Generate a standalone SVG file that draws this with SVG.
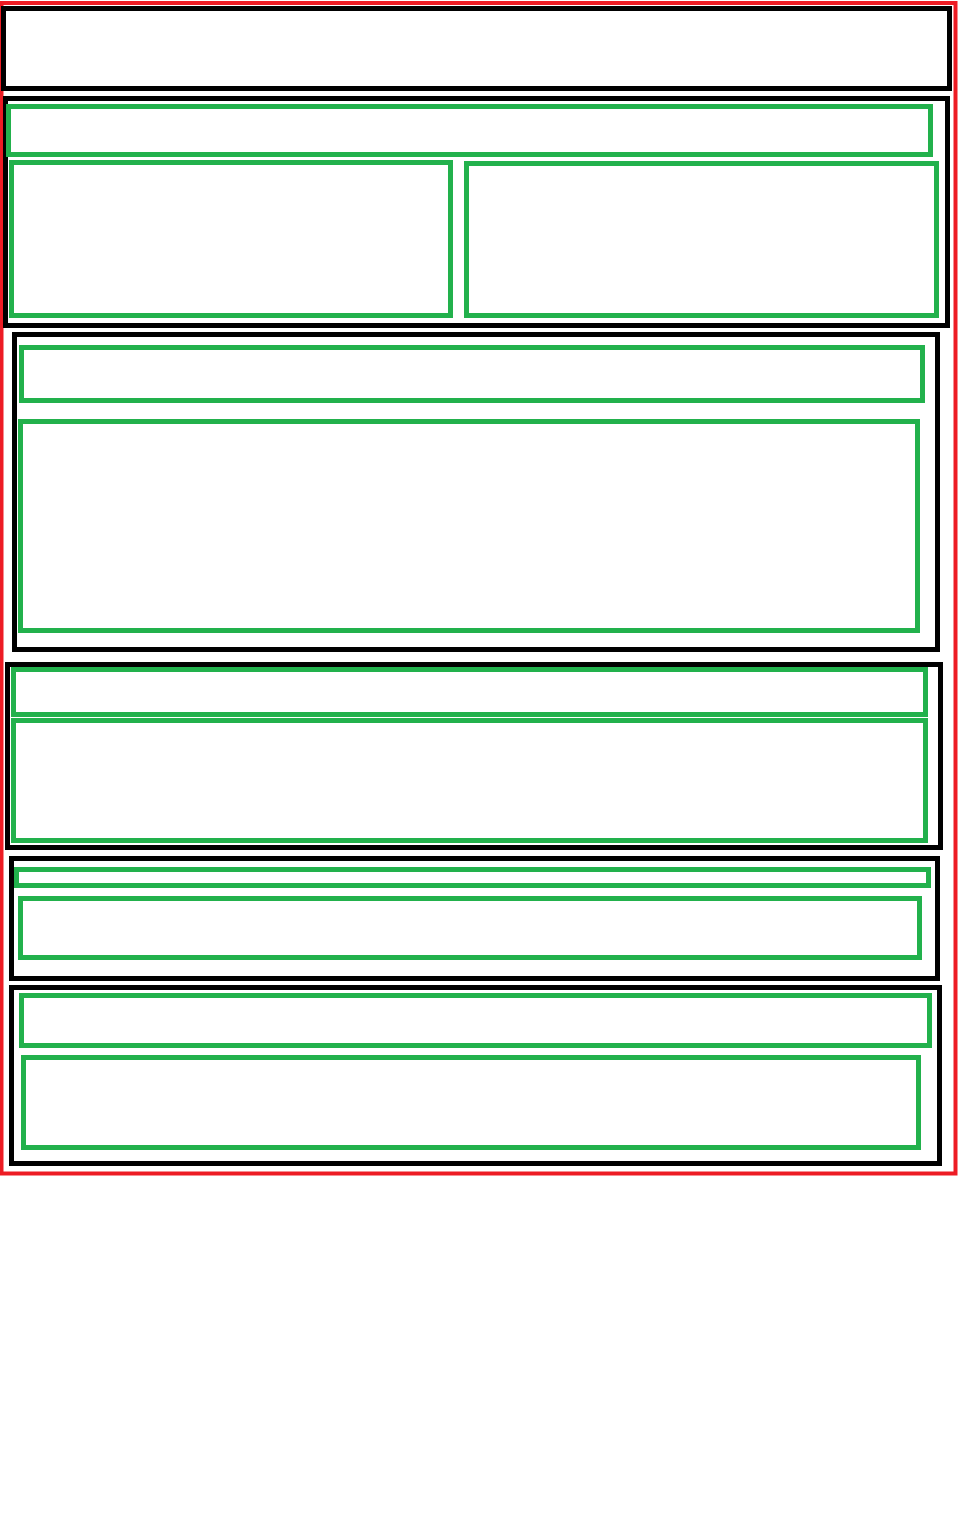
<svg xmlns="http://www.w3.org/2000/svg" width="960" height="1536" viewBox="0 0 960 1536">
<style>
.page{fill:none;stroke:#ED1C24;stroke-width:4}
.sec{fill:none;stroke:#000000;stroke-width:5}
.box{fill:none;stroke:#22B14C;stroke-width:5}
</style>
<rect x="0" y="0" width="960" height="1536" fill="#FFFFFF"/>
<g id="page"><rect class="page" x="1.5" y="3" width="954" height="1170.5"/></g>
<g id="header"><rect class="sec" x="3.5" y="8.5" width="946" height="80"/></g>
<g id="section1">
<rect class="sec" x="5.5" y="98.5" width="942" height="227"/>
<g id="section1-title"><rect class="box" x="8.5" y="106.5" width="922" height="48"/></g>
<g id="section1-left"><rect class="box" x="11.5" y="162.5" width="439" height="153"/></g>
<g id="section1-right"><rect class="box" x="466.5" y="163.5" width="470" height="152"/></g>
</g>
<g id="section2">
<rect class="sec" x="14.5" y="334.5" width="923" height="315"/>
<g id="section2-title"><rect class="box" x="21.5" y="347.5" width="901" height="53"/></g>
<g id="section2-body"><rect class="box" x="20.5" y="421.5" width="897" height="209"/></g>
</g>
<g id="section3">
<rect class="sec" x="7.5" y="664.5" width="933" height="183"/>
<g id="section3-title"><rect class="box" x="13.5" y="669.5" width="912" height="45"/></g>
<g id="section3-body"><rect class="box" x="13.5" y="720.5" width="912" height="120"/></g>
</g>
<g id="section4">
<rect class="sec" x="11.5" y="858.5" width="926" height="120"/>
<g id="section4-title"><rect class="box" x="16.5" y="869.5" width="912" height="16"/></g>
<g id="section4-body"><rect class="box" x="20.5" y="898.5" width="899" height="59"/></g>
</g>
<g id="section5">
<rect class="sec" x="11.5" y="987.5" width="928" height="176"/>
<g id="section5-title"><rect class="box" x="21.5" y="995.5" width="908" height="50"/></g>
<g id="section5-body"><rect class="box" x="23.5" y="1057.5" width="895" height="90"/></g>
</g>
<g id="connectors"></g>
</svg>
